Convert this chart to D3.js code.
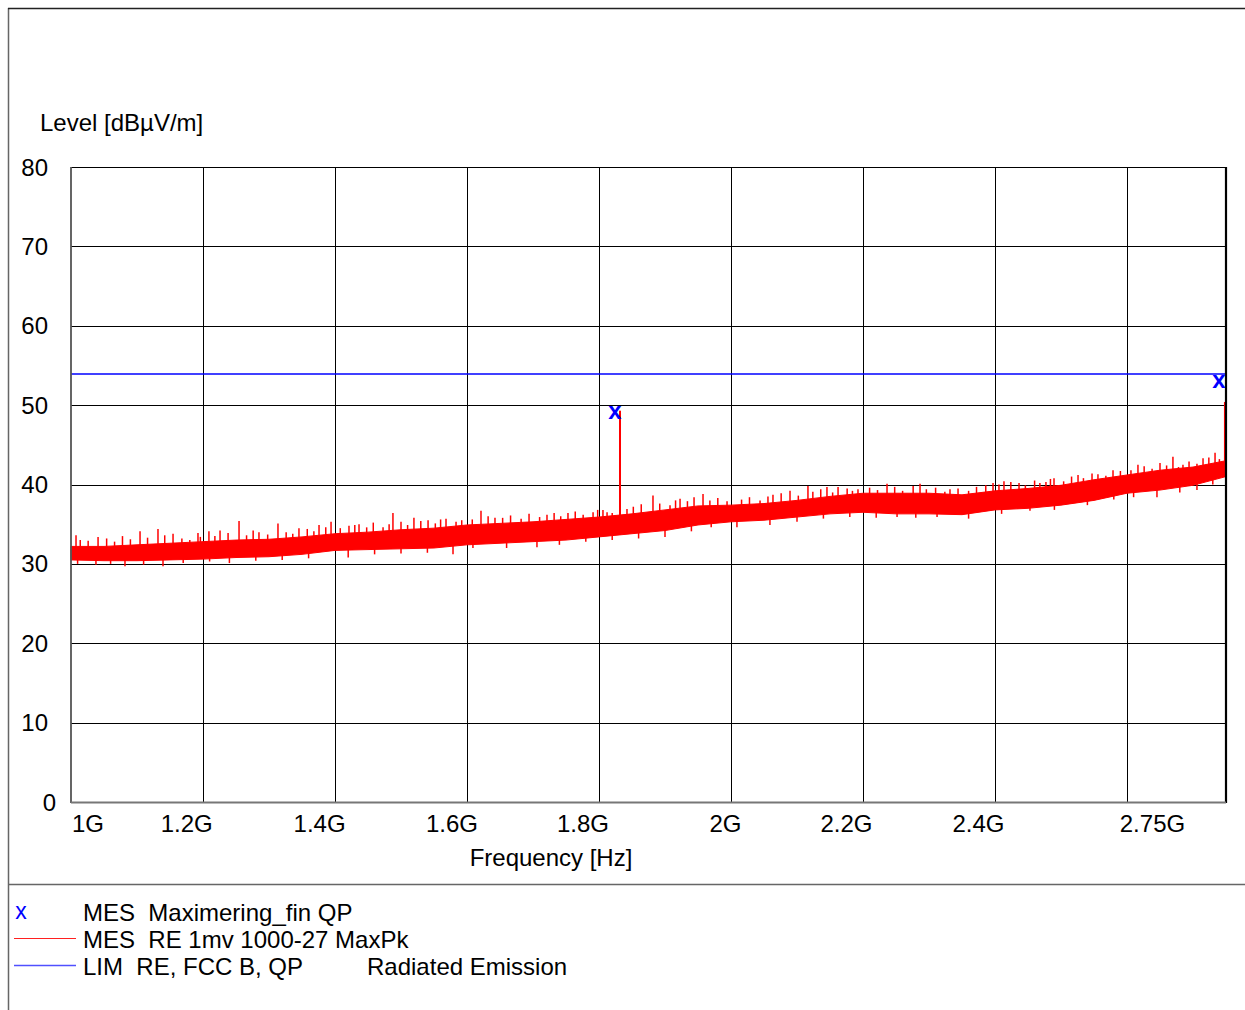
<!DOCTYPE html>
<html>
<head>
<meta charset="utf-8">
<script src="https://cdn.jsdelivr.net/npm/d3@7"></script>
<style>
  html, body { margin: 0; padding: 0; background: #fff; }
  svg { display: block; font-family: "Liberation Sans", Arial, sans-serif; }
</style>
</head>
<body>
<svg id="chart" width="1245" height="1010"></svg>
<script>
// ---------- data ----------
const yTicks = [0, 10, 20, 30, 40, 50, 60, 70, 80];
const xGridLines = [1, 2, 3, 4, 5, 6, 7, 8];           // grid divisions
const xTickLabels = ["1G", "1.2G", "1.4G", "1.6G", "1.8G", "2G", "2.2G", "2.4G", "2.75G"];
const xTickPos = [0.129, 0.877, 1.883, 2.886, 3.879, 4.958, 5.875, 6.875, 8.193];

// dense trace envelope (division position, upper / lower level in dBµV/m)
const bandPos = [0, 0.25, 0.5, 0.75, 1, 1.25, 1.5, 1.75, 2, 2.25, 2.5, 2.75, 3, 3.25, 3.5, 3.75,
  4, 4.25, 4.5, 4.75, 5, 5.25, 5.5, 5.75, 6, 6.25, 6.5, 6.75, 7, 7.25, 7.5, 7.75, 8, 8.25, 8.5, 8.75];
const bandHi = [32.2, 32.2, 32.4, 32.6, 32.8, 33.0, 33.1, 33.4, 33.8, 34.0, 34.3, 34.5, 34.9, 35.1, 35.3, 35.6,
  35.9, 36.3, 36.8, 37.3, 37.4, 37.6, 38.0, 38.5, 38.9, 38.9, 38.9, 38.7, 39.2, 39.5, 39.9, 40.6, 41.2, 41.8, 42.2, 43.0];
const bandLo = [30.5, 30.4, 30.4, 30.5, 30.6, 30.8, 30.9, 31.2, 31.7, 31.8, 31.9, 32.0, 32.4, 32.6, 32.8, 33.0,
  33.4, 33.8, 34.2, 34.9, 35.3, 35.5, 35.9, 36.3, 36.5, 36.3, 36.3, 36.2, 36.8, 37.0, 37.4, 38.0, 38.9, 39.3, 39.9, 41.0];

// noise spikes above the band
const spikePos = [0.038, 0.205, 0.523, 0.659, 0.773, 0.962, 1.045, 1.129, 1.273, 1.424, 1.568, 1.727, 1.879, 1.970,
  2.106, 2.182, 2.364, 2.439, 2.598, 2.705, 2.841, 2.917, 3.106, 3.212, 3.606, 3.765, 3.955, 4.061, 4.212, 4.409,
  4.538, 4.614, 4.788, 5.318, 5.447, 5.583, 5.727, 5.811, 5.962, 6.182, 6.432, 6.659, 6.985, 7.068, 7.182, 7.386,
  7.447, 7.629, 7.735, 7.894, 8.083, 8.250, 8.348, 8.424, 8.576, 8.667,
  0.07, 0.13, 0.27, 0.33, 0.39, 0.45, 0.58, 0.71, 0.84, 0.90, 0.98,
  1.09, 1.19, 1.33, 1.38, 1.49, 1.63, 1.68, 1.79, 1.84, 1.93,
  2.04, 2.15, 2.24, 2.29, 2.41, 2.50, 2.55, 2.65, 2.76, 2.80, 2.96,
  3.04, 3.16, 3.27, 3.33, 3.41, 3.47, 3.55, 3.66, 3.71, 3.82, 3.88, 3.99,
  4.03, 4.10, 4.26, 4.32, 4.46, 4.58, 4.67, 4.72, 4.84, 4.90, 4.97,
  5.08, 5.14, 5.22, 5.28, 5.38, 5.51, 5.62, 5.68, 5.77, 5.88, 5.92,
  6.05, 6.11, 6.24, 6.30, 6.38, 6.48, 6.55, 6.62, 6.72, 6.80, 6.86, 6.93,
  7.03, 7.12, 7.23, 7.30, 7.34, 7.42, 7.52, 7.58, 7.67, 7.78, 7.84, 7.95,
  8.03, 8.13, 8.19, 8.30, 8.39, 8.47, 8.53, 8.62, 8.70];
const spikeTop = [33.6, 33.4, 34.1, 34.4, 33.8, 33.9, 34.1, 34.2, 35.4, 34.0, 35.1, 34.5, 34.9, 35.3,
  34.8, 35.0, 34.6, 36.4, 35.8, 35.5, 35.7, 35.3, 36.7, 35.8, 36.2, 36.4, 36.5, 36.5, 36.9, 38.6,
  37.4, 38.2, 38.8, 38.7, 39.2, 39.8, 39.7, 39.7, 39.4, 40.1, 40.1, 39.4, 40.2, 40.4, 40.2, 40.3,
  40.8, 41.2, 41.4, 41.8, 42.5, 42.7, 43.5, 42.5, 43.3, 44.0,
  33.0, 32.9, 33.2, 32.8, 33.5, 33.1, 33.3, 33.6, 33.2, 33.0, 33.4,
  33.5, 33.9, 33.6, 34.2, 33.7, 34.0, 33.8, 34.4, 34.1, 34.6,
  34.5, 34.9, 34.6, 35.2, 35.0, 35.3, 34.9, 35.4, 35.1, 35.6, 35.5,
  35.6, 36.0, 35.8, 36.1, 35.7, 36.3, 35.9, 36.4, 36.0, 36.6, 36.2, 36.8,
  36.8, 36.4, 37.2, 37.5, 37.6, 38.0, 37.9, 38.4, 38.0, 38.3, 37.9,
  38.1, 38.4, 38.0, 38.5, 38.9, 38.6, 39.1, 39.4, 39.0, 39.5, 39.2,
  39.6, 39.3, 39.7, 39.2, 39.8, 39.4, 39.6, 39.1, 39.5, 39.2, 39.7, 39.9,
  40.0, 40.3, 39.9, 40.5, 40.2, 40.7, 40.4, 41.0, 40.8, 41.3, 41.1, 41.7,
  41.8, 42.3, 42.0, 42.4, 42.2, 42.9, 42.6, 43.4, 43.2];

// noise dips below the band
const dipPos = [0.189, 0.409, 0.697, 1.2, 2.1, 2.894, 3.045, 3.530, 4.3, 5.045, 5.295, 6.258, 6.561, 7.265, 8.227, 8.530,
  0.05, 0.30, 0.55, 0.85, 1.05, 1.40, 1.60, 1.80, 2.30, 2.50, 2.70, 3.30, 3.70, 3.90, 4.10, 4.50, 4.70, 4.85,
  5.50, 5.70, 5.90, 6.10, 6.40, 6.80, 7.05, 7.45, 7.70, 7.90, 8.05, 8.40, 8.65];
const dipBottom = [29.9, 29.7, 29.7, 30.1, 30.8, 31.2, 32.0, 32.1, 33.2, 34.6, 34.9, 35.9, 35.9, 36.7, 38.4, 39.3,
  30.0, 30.0, 29.9, 30.1, 30.3, 30.4, 30.5, 30.7, 31.2, 31.3, 31.4, 32.0, 32.4, 32.8, 33.0, 33.4, 34.1, 34.6,
  35.3, 35.7, 35.9, 35.8, 35.8, 35.7, 36.3, 36.8, 37.4, 38.1, 38.4, 39.0, 40.0];

// narrow-band peaks of the MaxPk trace
const peakPos = [4.159, 8.742];
const peakTop = [49.3, 50.4];

// QP final measurement markers
const qpPos = [4.121, 8.697];
const qpLevel = [49.1, 53.0];

// limit line
const limitLevel = 54;

// ---------- drawing ----------
const svg = d3.select("#chart");
const x = d3.scaleLinear().domain([0, 8.75]).range([71, 1226]);
const y = d3.scaleLinear().domain([0, 80]).range([802, 167]);
const FONT = 24;

// outer frame
svg.append("line").attr("x1", 8.5).attr("x2", 8.5).attr("y1", 8).attr("y2", 1010).attr("stroke", "#666").attr("stroke-width", 1.5);
svg.append("line").attr("x1", 8).attr("x2", 1245).attr("y1", 8.5).attr("y2", 8.5).attr("stroke", "#222").attr("stroke-width", 1.5);
svg.append("line").attr("x1", 8).attr("x2", 1245).attr("y1", 884.5).attr("y2", 884.5).attr("stroke", "#666").attr("stroke-width", 1.5);

// grid
const g = svg.append("g");
g.selectAll("line.h").data(yTicks.filter(v => v > 0 && v < 80)).join("line")
  .attr("x1", x(0)).attr("x2", x(8.75))
  .attr("y1", d => Math.round(y(d)) + 0.5).attr("y2", d => Math.round(y(d)) + 0.5)
  .attr("stroke", "#000").attr("stroke-width", 1);
g.selectAll("line.v").data(xGridLines).join("line")
  .attr("x1", d => Math.round(x(d)) + 0.5).attr("x2", d => Math.round(x(d)) + 0.5)
  .attr("y1", y(80)).attr("y2", y(0))
  .attr("stroke", "#000").attr("stroke-width", 1);

// limit line
svg.append("line").attr("x1", x(0)).attr("x2", x(8.75))
  .attr("y1", Math.floor(y(limitLevel)) + 1).attr("y2", Math.floor(y(limitLevel)) + 1)
  .attr("stroke", "#0000ff").attr("stroke-width", 1.4);

// trace
const interp = (arr, p) => {
  const i = Math.min(bandPos.length - 2, Math.floor(p / 0.25));
  const t = (p - bandPos[i]) / (bandPos[i + 1] - bandPos[i]);
  return arr[i] + t * (arr[i + 1] - arr[i]);
};
const tr = svg.append("g");
const area = d3.area().x((d, i) => x(bandPos[i])).y0((d, i) => y(bandLo[i])).y1((d, i) => y(bandHi[i]));
tr.append("path").datum(bandPos).attr("d", area).attr("fill", "#ff0000").attr("stroke", "#ff0000").attr("stroke-width", 1);
tr.selectAll("line.sp").data(spikePos).join("line")
  .attr("x1", d => x(d)).attr("x2", d => x(d))
  .attr("y1", (d, i) => y(spikeTop[i])).attr("y2", d => y(interp(bandHi, d) - 0.8))
  .attr("stroke", "#ff0000").attr("stroke-width", 1.5);
tr.selectAll("line.dp").data(dipPos).join("line")
  .attr("x1", d => x(d)).attr("x2", d => x(d))
  .attr("y1", (d, i) => y(dipBottom[i])).attr("y2", d => y(interp(bandLo, d) + 0.8))
  .attr("stroke", "#ff0000").attr("stroke-width", 1.5);
tr.selectAll("line.pk").data(peakPos).join("line")
  .attr("x1", d => x(d)).attr("x2", d => x(d))
  .attr("y1", (d, i) => y(peakTop[i])).attr("y2", d => y(interp(bandLo, d)))
  .attr("stroke", "#ff0000").attr("stroke-width", 2);

// plot borders
svg.append("line").attr("x1", x(0)).attr("x2", x(8.75)).attr("y1", y(80) + 0.5).attr("y2", y(80) + 0.5).attr("stroke", "#000").attr("stroke-width", 1.2);
svg.append("line").attr("x1", x(8.75)).attr("x2", x(8.75)).attr("y1", y(80)).attr("y2", y(0) + 1).attr("stroke", "#000").attr("stroke-width", 2.2);
svg.append("line").attr("x1", x(0)).attr("x2", x(0)).attr("y1", y(80)).attr("y2", y(0) + 1).attr("stroke", "#555").attr("stroke-width", 1.8);
svg.append("line").attr("x1", x(0)).attr("x2", x(8.75)).attr("y1", y(0) + 0.5).attr("y2", y(0) + 0.5).attr("stroke", "#777").attr("stroke-width", 2);

// QP markers
svg.selectAll("text.qp").data(qpPos).join("text")
  .attr("x", d => x(d)).attr("y", (d, i) => y(qpLevel[i]) + 7)
  .attr("text-anchor", "middle").attr("font-size", 24).attr("font-weight", "bold")
  .attr("fill", "#0000ff").text("x");

// y tick labels
svg.selectAll("text.yt").data(yTicks).join("text")
  .attr("x", d => d === 0 ? 56 : 48).attr("y", d => y(d) + 8.5)
  .attr("text-anchor", "end").attr("font-size", FONT).attr("fill", "#000").text(d => d);

// x tick labels
svg.selectAll("text.xt").data(xTickLabels).join("text")
  .attr("x", (d, i) => x(xTickPos[i])).attr("y", 831.5)
  .attr("text-anchor", "middle").attr("font-size", FONT).attr("fill", "#000").text(d => d);

// axis titles
svg.append("text").attr("x", 40).attr("y", 130.5).attr("font-size", FONT).text("Level [dBµV/m]");
svg.append("text").attr("x", 551).attr("y", 865.5).attr("text-anchor", "middle").attr("font-size", FONT).text("Frequency [Hz]");

// legend
const legendY = [912, 939, 966];
svg.append("text").attr("x", 21).attr("y", legendY[0] + 7).attr("text-anchor", "middle").attr("font-size", 23).attr("fill", "#0000ff").text("x");
svg.append("line").attr("x1", 14).attr("x2", 76).attr("y1", legendY[1] - 0.5).attr("y2", legendY[1] - 0.5).attr("stroke", "#ff2020").attr("stroke-width", 1.2);
svg.append("line").attr("x1", 14).attr("x2", 76).attr("y1", legendY[2] - 0.5).attr("y2", legendY[2] - 0.5).attr("stroke", "#5050ff").attr("stroke-width", 1.4);
const legendText = ["MES  Maximering_fin QP", "MES  RE 1mv 1000-27 MaxPk", "LIM  RE, FCC B, QP"];
svg.selectAll("text.lg").data(legendText).join("text")
  .attr("x", 83).attr("y", (d, i) => legendY[i] + 8.5)
  .attr("font-size", FONT).attr("fill", "#000").attr("xml:space", "preserve").style("white-space", "pre").text(d => d);
svg.append("text").attr("x", 367).attr("y", legendY[2] + 8.5).attr("font-size", FONT).text("Radiated Emission");
</script>
</body>
</html>
